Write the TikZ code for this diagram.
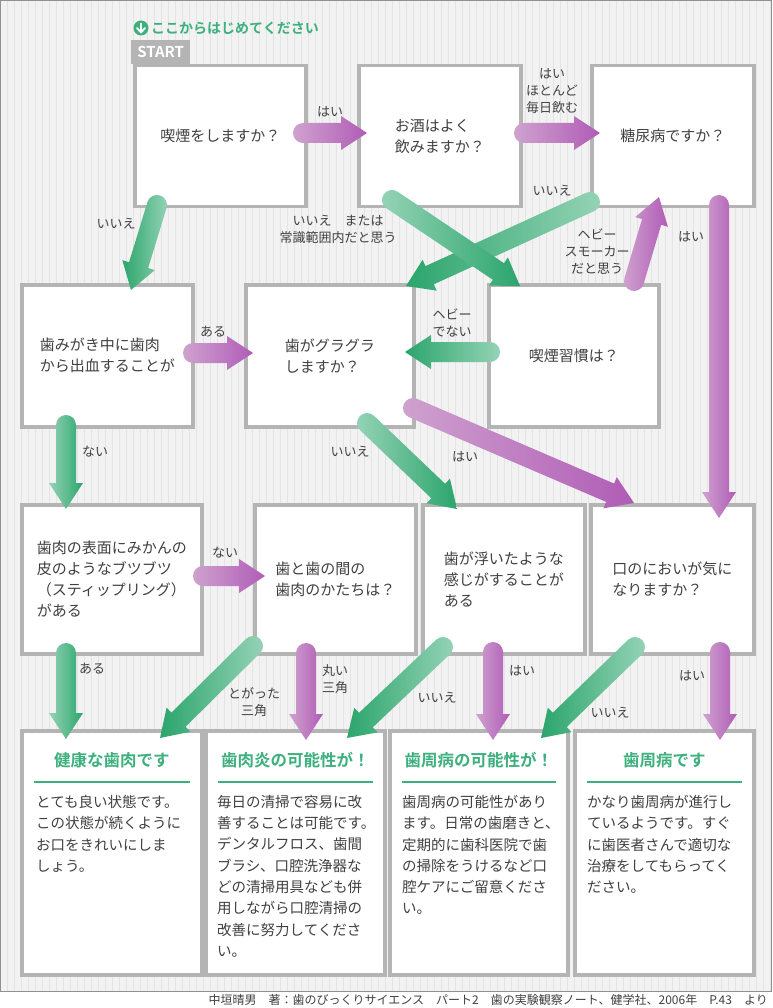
\documentclass[tikz,border=0pt]{standalone}
\usepackage{fontspec}
\setmainfont{Noto Sans CJK JP}
\newfontfamily\jpbold{Noto Sans CJK JP Bold}
\usetikzlibrary{calc}

\definecolor{boxgrey}{HTML}{B4B4B4}
\definecolor{textgrey}{HTML}{404040}
\definecolor{gridgrey}{HTML}{E4E4E4}
\definecolor{panelgrey}{HTML}{F2F2F2}
\definecolor{greenlight}{HTML}{95D3B6}
\definecolor{greendark}{HTML}{2BA56C}
\definecolor{purplelight}{HTML}{CFA2CF}
\definecolor{purpledark}{HTML}{B05CB6}
\definecolor{titlegreen}{HTML}{3DB07E}

% fat gradient arrow: start (round end), tip, colour family
\newcommand\flowarrow[3]{%
  \path let \p1=(#1), \p2=(#2) in \pgfextra{%
    \pgfmathsetmacro\fa{atan2(\y2-\y1,\x2-\x1)}%
    \pgfmathsetmacro\fl{veclen(\x2-\x1,\y2-\y1)}%
    \pgfmathtruncatemacro\fb{cos(\fa)<-0.01}%
    \xdef\faang{\fa}\xdef\falen{\fl}\xdef\fax{\x1}\xdef\fay{\y1}\xdef\faback{\fb}};
  \ifnum\faback=1
    \def\fcola{#3dark}\def\fcolb{#3light}% shading turns the wrong way here
  \else
    \def\fcola{#3light}\def\fcolb{#3dark}%
  \fi
  \begin{scope}[shift={(\fax,\fay)}, rotate=\faang]
    \shade[left color=\fcola, right color=\fcolb]
      (0,-10) -- (\falen-26,-10) -- (\falen-26,-17) -- (\falen,0)
      -- (\falen-26,17) -- (\falen-26,10) -- (0,10) arc (90:270:10) -- cycle;
  \end{scope}}

\begin{document}
\begin{tikzpicture}[x=1pt,y=-1pt,
    box/.style={draw=boxgrey, line width=3.5pt, fill=white, align=left, inner sep=0pt,
      text=textgrey, font=\fontsize{15}{21}\selectfont, anchor=north west},
    endbox/.style={box, minimum width=179, minimum height=244},
    lbl/.style={text=textgrey, align=center, inner sep=0pt, font=\fontsize{13}{17}\selectfont},
    titletext/.style={text=titlegreen, inner sep=0pt, font=\jpbold\fontsize{16.5}{20}\selectfont},
    bodytext/.style={text=textgrey, align=left, inner sep=0pt, anchor=north west,
      font=\fontsize{14.5}{21.3}\selectfont},
    titleline/.style={draw=titlegreen, line width=2pt}]
  \useasboundingbox (0,0) rectangle (772,1008);
  % background panel with fine grid
  \fill[white] (0,0) rectangle (772,1008);
  \fill[panelgrey] (0,0) rectangle (771,991);
  \draw[gridgrey, line width=0.6pt] (0,0) grid[step=7] (771,991);
  \draw[boxgrey!80!black, line width=1pt] (0.5,0.5) rectangle (771,991);

  % start marker
  \node[circle, fill=titlegreen, minimum size=15, inner sep=0pt] (starticon) at (141,28) {};
  \draw[white, line width=1.8pt] ($(starticon)+(0,-5)$) -- ($(starticon)+(0,4)$);
  \draw[white, line width=1.8pt, line cap=round, line join=round] ($(starticon)+(-4,0)$) -- ($(starticon)+(0,4.5)$) -- ($(starticon)+(4,0)$);
  \node[anchor=west, inner sep=0pt, text=titlegreen, font=\jpbold\fontsize{14}{16}\selectfont] (starttext) at (151,28) {ここからはじめてください};
  \node[fill=boxgrey, minimum width=59, minimum height=24, inner sep=0pt, anchor=south west,
    text=white, font=\jpbold\fontsize{15}{16}\selectfont] (starttab) at (131,64) {START};

  % question boxes
  \node[box, minimum width=171, minimum height=141] (smoke) at (133,64) {喫煙をしますか？};
  \node[box, minimum width=162, minimum height=141] (alcohol) at (357,64) {お酒はよく\\飲みますか？};
  \node[box, minimum width=162, minimum height=141] (diabetes) at (590,64) {糖尿病ですか？};
  \node[box, minimum width=171, minimum height=142] (bleed) at (20,283) {歯みがき中に歯肉\\から出血することが};
  \node[box, minimum width=168, minimum height=142] (wobble) at (244,283) {歯がグラグラ\\しますか？};
  \node[box, minimum width=170, minimum height=142] (habit) at (487,283) {喫煙習慣は？};
  \node[box, minimum width=180, minimum height=149] (stipple) at (20,503) {歯肉の表面にみかんの\\皮のようなブツブツ\\（スティップリング）\\がある};
  \node[box, minimum width=161, minimum height=149] (gumshape) at (253,503) {歯と歯の間の\\歯肉のかたちは？};
  \node[box, minimum width=162, minimum height=149] (float) at (421,503) {歯が浮いたような\\感じがすることが\\ある};
  \node[box, minimum width=163, minimum height=149] (smell) at (589,503) {口のにおいが気に\\なりますか？};

  % result boxes
  \node[endbox, minimum width=180] (healthy) at (20,729) {};
  \node[endbox] (gingivitis) at (204,729) {};
  \node[endbox, minimum width=178] (perioposs) at (388,729) {};
  \node[endbox] (perio) at (573,729) {};
  \foreach \bx/\tt in {healthy/健康な歯肉です, gingivitis/歯肉炎の可能性が！,
      perioposs/歯周病の可能性が！, perio/歯周病です}{
    \node[titletext] (\bx-title) at ($(\bx.north)+(0,31)$) {\tt};
    \draw[titleline] ($(\bx.north west)+(14,53)$) -- ($(\bx.north east)+(-14,53)$);
  }
  \node[bodytext] (healthy-body) at ($(healthy.north west)+(16,66)$)
    {とても良い状態です。\\この状態が続くように\\お口をきれいにしま\\しょう。};
  \node[bodytext] (gingivitis-body) at ($(gingivitis.north west)+(13,66)$)
    {毎日の清掃で容易に改\\善することは可能です。\\デンタルフロス、歯間\\ブラシ、口腔洗浄器な\\どの清掃用具なども併\\用しながら口腔清掃の\\改善に努力してくださ\\い。};
  \node[bodytext] (perioposs-body) at ($(perioposs.north west)+(14,66)$)
    {歯周病の可能性があり\\ます。日常の歯磨きと、\\定期的に歯科医院で歯\\の掃除をうけるなど口\\腔ケアにご留意くださ\\い。};
  \node[bodytext] (perio-body) at ($(perio.north west)+(14,66)$)
    {かなり歯周病が進行し\\ているようです。すぐ\\に歯医者さんで適切な\\治療をしてもらってく\\ださい。};

  % arrow ends
  \coordinate (smoke-y) at (303,133);   \coordinate (alcohol-in) at (367,133);
  \coordinate (alcohol-y) at (524,133); \coordinate (diabetes-in) at (600,133);
  \coordinate (smoke-n) at (157,205);   \coordinate (bleed-in) at (131,290);
  \coordinate (alcohol-n) at (392,200); \coordinate (habit-in) at (520,286);
  \coordinate (diabetes-n) at (590,202); \coordinate (wobble-in1) at (406,286);
  \coordinate (habit-heavy) at (634,281); \coordinate (diabetes-in2) at (659,197);
  \coordinate (diabetes-y) at (719,205); \coordinate (smell-in) at (719,518);
  \coordinate (habit-light) at (490,352); \coordinate (wobble-in2) at (405,352);
  \coordinate (bleed-y) at (193,353);   \coordinate (wobble-in3) at (253,353);
  \coordinate (bleed-n) at (66,425);    \coordinate (stipple-in) at (66,509);
  \coordinate (wobble-n) at (367,423);  \coordinate (float-in) at (457,509);
  \coordinate (wobble-y) at (413,408);  \coordinate (smell-in2) at (634,503);
  \coordinate (stipple-n) at (203,576); \coordinate (gumshape-in) at (265,576);
  \coordinate (stipple-y) at (66,653);  \coordinate (healthy-in) at (66,739);
  \coordinate (gumshape-pt) at (253,646); \coordinate (healthy-in2) at (160,738);
  \coordinate (gumshape-rd) at (306,653); \coordinate (gingivitis-in) at (306,740);
  \coordinate (float-n) at (443,647);   \coordinate (gingivitis-in2) at (347,738);
  \coordinate (float-y) at (493,652);   \coordinate (perioposs-in) at (493,740);
  \coordinate (smell-n) at (635,647);   \coordinate (perioposs-in2) at (541,738);
  \coordinate (smell-y) at (720,652);   \coordinate (perio-in) at (720,740);

  \flowarrow{smoke-y}{alcohol-in}{purple}
  \flowarrow{alcohol-y}{diabetes-in}{purple}
  \flowarrow{smoke-n}{bleed-in}{green}
  \flowarrow{diabetes-n}{wobble-in1}{green}
  \flowarrow{alcohol-n}{habit-in}{green}
  \flowarrow{habit-heavy}{diabetes-in2}{purple}
  \flowarrow{diabetes-y}{smell-in}{purple}
  \flowarrow{habit-light}{wobble-in2}{green}
  \flowarrow{bleed-y}{wobble-in3}{purple}
  \flowarrow{bleed-n}{stipple-in}{green}
  \flowarrow{wobble-n}{float-in}{green}
  \flowarrow{wobble-y}{smell-in2}{purple}
  \flowarrow{stipple-n}{gumshape-in}{purple}
  \flowarrow{stipple-y}{healthy-in}{green}
  \flowarrow{gumshape-pt}{healthy-in2}{green}
  \flowarrow{gumshape-rd}{gingivitis-in}{purple}
  \flowarrow{float-n}{gingivitis-in2}{green}
  \flowarrow{float-y}{perioposs-in}{purple}
  \flowarrow{smell-n}{perioposs-in2}{green}
  \flowarrow{smell-y}{perio-in}{purple}

  % arrow labels
  \node[lbl] (l-smoke-y) at (330,112) {はい};
  \node[lbl] (l-alcohol-y) at (552,91) {はい\\ほとんど\\毎日飲む};
  \node[lbl] (l-smoke-n) at (116,224) {いいえ};
  \node[lbl] (l-alcohol-n) at (338,229) {いいえ　または\\常識範囲内だと思う};
  \node[lbl] (l-diabetes-n) at (552,191) {いいえ};
  \node[lbl] (l-habit-heavy) at (597,252) {ヘビー\\スモーカー\\だと思う};
  \node[lbl] (l-diabetes-y) at (691,237) {はい};
  \node[lbl] (l-habit-light) at (452,323) {ヘビー\\でない};
  \node[lbl] (l-bleed-y) at (213,332) {ある};
  \node[lbl] (l-bleed-n) at (95,452) {ない};
  \node[lbl] (l-wobble-n) at (350,452) {いいえ};
  \node[lbl] (l-wobble-y) at (465,457) {はい};
  \node[lbl] (l-stipple-n) at (225,553) {ない};
  \node[lbl] (l-stipple-y) at (92,669) {ある};
  \node[lbl] (l-gumshape-pt) at (254,702) {とがった\\三角};
  \node[lbl] (l-gumshape-rd) at (335,679) {丸い\\三角};
  \node[lbl] (l-float-n) at (437,698) {いいえ};
  \node[lbl] (l-float-y) at (522,671) {はい};
  \node[lbl] (l-smell-n) at (610,713) {いいえ};
  \node[lbl] (l-smell-y) at (692,676) {はい};

  % source
  \node[anchor=east, inner sep=0pt, text=textgrey, font=\fontsize{12}{14}\selectfont] (source) at (768,1000)
    {中垣晴男　著：歯のびっくりサイエンス　パート2　歯の実験観察ノート、健学社、2006年　P.43　より};
\end{tikzpicture}
\end{document}
